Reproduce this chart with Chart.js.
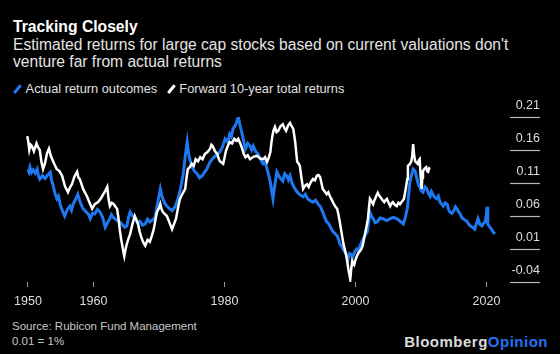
<!DOCTYPE html>
<html>
<head>
<meta charset="utf-8">
<script src="https://cdn.jsdelivr.net/npm/chart.js@4/dist/chart.umd.min.js"></script>
<style>
  body { margin: 0; background: #000; width: 560px; height: 354px; overflow: hidden; position: relative;
         font-family: "Liberation Sans", Arial, sans-serif; }
  .title { position: absolute; left: 13px; top: 18px; color: #fff; font-weight: bold; font-size: 15.7px; white-space: nowrap; }
  .subtitle { position: absolute; left: 13px; top: 36px; color: #e4e4e4; font-size: 15.6px; line-height: 17px; white-space: nowrap; }
  .legend { position: absolute; left: 12px; top: 81px; color: #e0e0e0; font-size: 12.8px; white-space: nowrap; }
  .legend span.item { margin-right: 5px; }
  .legend i { display: inline-block; width: 2.6px; height: 10px; transform: rotate(40deg); margin: 0 7px -1px 4px; }
  #wrap { position: absolute; left: 0; top: 95px; width: 560px; height: 215px; }
  .source { position: absolute; left: 12px; top: 319px; color: #c8c8c8; font-size: 11.5px; line-height: 15px; }
  .logo { position: absolute; right: 12px; top: 333px; font-size: 15px; font-weight: bold; color: #dcdcdc; letter-spacing: 0.5px; }
  .logo b { color: #2372f2; }
</style>
</head>
<body>
<div class="title">Tracking Closely</div>
<div class="subtitle">Estimated returns for large cap stocks based on current valuations don't<br>venture far from actual returns</div>
<div class="legend">
  <span class="item"><i style="background:#1e78f0"></i>Actual return outcomes</span>
  <span class="item"><i style="background:#fff"></i>Forward 10-year total returns</span>
</div>
<div id="wrap"><canvas id="chart"></canvas></div>
<div class="source">Source: Rubicon Fund Management<br>0.01 = 1%</div>
<div class="logo">Bloomberg<b>Opinion</b></div>

<script>
// === Data ====================================================================
const xTickYears = [1950, 1960, 1980, 2000, 2020];
const yTickValues = [-0.04, 0.01, 0.06, 0.11, 0.16, 0.21];

// Actual return outcomes (blue)
const actualYears = [
  1950.0, 1950.15, 1950.3, 1950.55, 1950.8, 1951.1, 1951.4, 1951.6, 1951.8, 1952.2,
  1952.6, 1953.0, 1953.4, 1953.6, 1953.8, 1954.1, 1954.4, 1954.65, 1954.9, 1955.25,
  1955.6, 1956.0, 1956.4, 1956.65, 1956.9, 1957.25, 1957.6, 1958.0, 1958.4, 1958.8,
  1959.2, 1959.5, 1959.85, 1960.2, 1960.6, 1961.0, 1961.4, 1961.8, 1962.15, 1962.5,
  1962.75, 1963.0, 1963.5, 1964.0, 1964.4, 1964.8, 1965.1, 1965.35, 1965.6, 1965.95,
  1966.3, 1966.7, 1967.1, 1967.5, 1967.9, 1968.25, 1968.6, 1969.0, 1969.4, 1969.8,
  1970.2, 1970.4, 1970.6, 1970.9, 1971.2, 1971.6, 1972.0, 1972.45, 1972.9, 1973.3,
  1973.7, 1974.0, 1974.3, 1974.5, 1974.7, 1975.0, 1975.4, 1975.8, 1976.2, 1976.6,
  1977.0, 1977.3, 1977.7, 1978.1, 1978.5, 1978.9, 1979.3, 1979.7, 1980.1, 1980.5,
  1980.8, 1981.05, 1981.3, 1981.7, 1982.1, 1982.4, 1982.7, 1983.0, 1983.2, 1983.55,
  1983.9, 1984.15, 1984.4, 1984.75, 1985.1, 1985.5, 1985.9, 1986.2, 1986.5, 1986.75,
  1987.0, 1987.2, 1987.4, 1987.55, 1987.7, 1988.0, 1988.45, 1988.9, 1989.2, 1989.5,
  1989.75, 1990.0, 1990.3, 1990.6, 1990.85, 1991.1, 1991.55, 1992.0, 1992.35, 1992.7,
  1993.1, 1993.5, 1993.9, 1994.3, 1994.65, 1995.0, 1995.3, 1995.6, 1995.85, 1996.1,
  1996.35, 1996.6, 1996.9, 1997.2, 1997.4, 1997.6, 1997.85, 1998.1, 1998.35, 1998.6,
  1998.9, 1999.1, 1999.3, 1999.6, 1999.9, 2000.2, 2000.45, 2000.7, 2001.0, 2001.3,
  2001.55, 2001.8, 2002.0, 2002.2, 2002.45, 2002.7, 2003.0, 2003.3, 2003.75, 2004.2,
  2004.75, 2005.3, 2005.8, 2006.3, 2006.8, 2007.3, 2007.6, 2007.9, 2008.1, 2008.3,
  2008.55, 2008.8, 2009.1, 2009.4, 2009.6, 2009.8, 2010.05, 2010.3, 2010.6, 2010.9,
  2011.15, 2011.4, 2011.6, 2011.8, 2012.1, 2012.4, 2012.65, 2012.9, 2013.15, 2013.4,
  2013.7, 2014.0, 2014.2, 2014.4, 2014.7, 2015.0, 2015.25, 2015.5, 2015.75, 2016.0,
  2016.2, 2016.4, 2016.7, 2017.0, 2017.25, 2017.5, 2017.85, 2018.2, 2018.45, 2018.7,
  2019.0, 2019.3, 2019.55, 2019.8, 2019.95, 2020.1, 2020.2, 2020.5, 2020.75, 2021.0,
  2021.3
];
const actualValues = [
  0.131, 0.127, 0.134, 0.126, 0.130, 0.125, 0.131, 0.121, 0.116, 0.121,
  0.117, 0.122, 0.126, 0.114, 0.108, 0.095, 0.086, 0.090, 0.078, 0.068,
  0.060, 0.070, 0.075, 0.069, 0.078, 0.085, 0.093, 0.080, 0.071, 0.067,
  0.063, 0.056, 0.064, 0.063, 0.070, 0.066, 0.058, 0.043, 0.050, 0.056,
  0.062, 0.058, 0.054, 0.051, 0.047, 0.043, 0.045, 0.058, 0.066, 0.060,
  0.058, 0.050, 0.052, 0.046, 0.048, 0.055, 0.051, 0.054, 0.058, 0.080,
  0.101, 0.092, 0.086, 0.079, 0.075, 0.071, 0.068, 0.074, 0.086, 0.102,
  0.124, 0.150, 0.172, 0.156, 0.146, 0.136, 0.128, 0.124, 0.118, 0.121,
  0.127, 0.131, 0.140, 0.146, 0.150, 0.154, 0.157, 0.165, 0.177, 0.172,
  0.184, 0.180, 0.192, 0.198, 0.210, 0.196, 0.184, 0.170, 0.162, 0.170,
  0.166, 0.160, 0.166, 0.158, 0.154, 0.146, 0.139, 0.142, 0.131, 0.122,
  0.111, 0.098, 0.086, 0.098, 0.108, 0.127, 0.118, 0.113, 0.124, 0.121,
  0.115, 0.121, 0.110, 0.104, 0.100, 0.096, 0.092, 0.089, 0.093, 0.086,
  0.083, 0.081, 0.084, 0.078, 0.074, 0.066, 0.058, 0.051, 0.049, 0.045,
  0.040, 0.036, 0.033, 0.030, 0.025, 0.018, 0.015, 0.010, 0.006, 0.002,
  -0.005, 0.003, 0.002, -0.001, 0.006, 0.010, 0.008, 0.015, 0.022, 0.028,
  0.032, 0.036, 0.050, 0.066, 0.060, 0.056, 0.050, 0.051, 0.057, 0.056,
  0.053, 0.056, 0.058, 0.056, 0.052, 0.048, 0.058, 0.071, 0.090, 0.111,
  0.122, 0.131, 0.128, 0.116, 0.108, 0.104, 0.098, 0.096, 0.104, 0.101,
  0.094, 0.090, 0.097, 0.093, 0.088, 0.086, 0.090, 0.081, 0.078, 0.075,
  0.080, 0.078, 0.070, 0.066, 0.064, 0.068, 0.074, 0.071, 0.066, 0.063,
  0.058, 0.056, 0.054, 0.052, 0.048, 0.045, 0.043, 0.040, 0.048, 0.056,
  0.047, 0.045, 0.049, 0.051, 0.060, 0.074, 0.048, 0.043, 0.040, 0.036,
  0.033
];

// Forward 10-year total returns (white)
const forwardYears = [
  1949.9, 1950.05, 1950.2, 1950.4, 1950.6, 1950.9, 1951.3, 1951.55, 1951.8, 1952.05,
  1952.3, 1952.6, 1952.9, 1953.2, 1953.45, 1953.7, 1954.05, 1954.4, 1954.8, 1955.2,
  1955.65, 1956.1, 1956.4, 1956.7, 1957.1, 1957.5, 1957.7, 1957.9, 1958.45, 1959.0,
  1959.4, 1959.8, 1960.2, 1960.7, 1961.1, 1961.5, 1961.8, 1962.1, 1962.3, 1962.5,
  1962.8, 1963.1, 1963.35, 1963.6, 1963.8, 1964.0, 1964.2, 1964.4, 1964.55, 1964.7,
  1964.9, 1965.1, 1965.35, 1965.6, 1965.95, 1966.3, 1966.55, 1966.8, 1967.05, 1967.3,
  1967.6, 1967.9, 1968.25, 1968.6, 1968.9, 1969.2, 1969.45, 1969.7, 1970.0, 1970.2,
  1970.4, 1970.6, 1970.9, 1971.2, 1971.6, 1972.0, 1972.3, 1972.6, 1972.9, 1973.2,
  1973.6, 1974.0, 1974.2, 1974.4, 1974.7, 1975.0, 1975.3, 1975.6, 1975.95, 1976.3,
  1976.65, 1977.0, 1977.4, 1977.8, 1978.0, 1978.2, 1978.55, 1978.9, 1979.1, 1979.3,
  1979.55, 1979.8, 1980.0, 1980.2, 1980.5, 1980.8, 1981.15, 1981.5, 1981.8, 1982.1,
  1982.4, 1982.7, 1982.95, 1983.2, 1983.55, 1983.9, 1984.45, 1985.0, 1985.45, 1985.9,
  1986.2, 1986.5, 1986.75, 1987.0, 1987.15, 1987.3, 1987.5, 1987.7, 1987.95, 1988.2,
  1988.55, 1988.9, 1989.15, 1989.4, 1989.7, 1990.0, 1990.25, 1990.5, 1990.65, 1990.8,
  1990.95, 1991.1, 1991.3, 1991.5, 1991.75, 1992.0, 1992.3, 1992.6, 1992.85, 1993.1,
  1993.3, 1993.5, 1993.8, 1994.1, 1994.35, 1994.6, 1994.8, 1995.0, 1995.3, 1995.6,
  1995.85, 1996.1, 1996.4, 1996.7, 1996.95, 1997.2, 1997.4, 1997.6, 1997.85, 1998.1,
  1998.35, 1998.6, 1998.75, 1998.9, 1999.05, 1999.2, 1999.35, 1999.5, 1999.65, 1999.8,
  2000.0, 2000.2, 2000.45, 2000.7, 2000.9, 2001.1, 2001.35, 2001.6, 2001.75, 2001.9,
  2002.05, 2002.2, 2002.45, 2002.7, 2002.85, 2003.0, 2003.2, 2003.4, 2003.55, 2003.7,
  2004.05, 2004.4, 2004.6, 2004.8, 2005.05, 2005.3, 2005.5, 2005.7, 2006.0, 2006.3,
  2006.55, 2006.8, 2007.1, 2007.4, 2007.65, 2007.9, 2008.0, 2008.25, 2008.5, 2008.65,
  2008.8, 2008.95, 2009.1, 2009.3, 2009.5, 2009.65, 2009.8, 2009.95, 2010.1, 2010.2,
  2010.3, 2010.55, 2010.8, 2010.95, 2011.1, 2011.25, 2011.4
];
const forwardValues = [
  0.181, 0.172, 0.160, 0.168, 0.166, 0.158, 0.170, 0.164, 0.160, 0.142,
  0.131, 0.140, 0.155, 0.162, 0.152, 0.146, 0.138, 0.131, 0.128, 0.121,
  0.105, 0.096, 0.103, 0.108, 0.120, 0.127, 0.118, 0.116, 0.100, 0.090,
  0.080, 0.071, 0.078, 0.081, 0.086, 0.093, 0.098, 0.104, 0.086, 0.075,
  0.080, 0.078, 0.074, 0.071, 0.058, 0.040, 0.026, 0.015, 0.006, -0.001,
  0.010, 0.018, 0.026, 0.033, 0.048, 0.060, 0.054, 0.048, 0.036, 0.028,
  0.020, 0.015, 0.024, 0.021, 0.030, 0.040, 0.054, 0.066, 0.072, 0.078,
  0.070, 0.066, 0.063, 0.060, 0.050, 0.040, 0.048, 0.056, 0.072, 0.086,
  0.094, 0.101, 0.118, 0.131, 0.134, 0.139, 0.136, 0.146, 0.143, 0.149,
  0.146, 0.154, 0.157, 0.162, 0.168, 0.166, 0.158, 0.154, 0.147, 0.143,
  0.141, 0.139, 0.148, 0.158, 0.166, 0.172, 0.170, 0.177, 0.174, 0.177,
  0.170, 0.162, 0.154, 0.149, 0.152, 0.146, 0.150, 0.151, 0.147, 0.146,
  0.149, 0.142, 0.148, 0.157, 0.170, 0.181, 0.190, 0.195, 0.187, 0.189,
  0.196, 0.199, 0.193, 0.189, 0.197, 0.201, 0.196, 0.192, 0.182, 0.172,
  0.156, 0.142, 0.140, 0.136, 0.118, 0.101, 0.106, 0.108, 0.104, 0.110,
  0.113, 0.116, 0.114, 0.121, 0.122, 0.119, 0.110, 0.101, 0.097, 0.093,
  0.096, 0.090, 0.084, 0.078, 0.074, 0.071, 0.062, 0.051, 0.036, 0.021,
  0.010, -0.001, -0.010, -0.020, -0.028, -0.036, -0.020, -0.008, -0.012, -0.014,
  -0.006, -0.001, 0.004, 0.007, 0.010, 0.015, 0.028, 0.040, 0.048, 0.056,
  0.072, 0.086, 0.082, 0.078, 0.083, 0.086, 0.091, 0.095, 0.092, 0.090,
  0.085, 0.081, 0.084, 0.086, 0.080, 0.075, 0.079, 0.081, 0.077, 0.075,
  0.080, 0.078, 0.082, 0.086, 0.100, 0.116, 0.136, 0.138, 0.142, 0.150,
  0.169, 0.152, 0.143, 0.141, 0.139, 0.144, 0.146, 0.120, 0.101, 0.118,
  0.128, 0.132, 0.134, 0.128, 0.127, 0.132, 0.131
];

// === Helpers =================================================================
function toPoints(xs, ys) {
  return xs.map((x, i) => ({ x: x, y: ys[i] }));
}

// short rules under each right-hand value label
const rightRules = {
  id: "rightRules",
  afterDraw(chart) {
    const y = chart.scales.y;
    const ctx = chart.ctx;
    ctx.save();
    ctx.strokeStyle = "#b8b8b8";
    ctx.lineWidth = 1.2;
    yTickValues.forEach(v => {
      const py = Math.round(y.getPixelForValue(v)) + 0.5;
      ctx.beginPath();
      ctx.moveTo(y.left + 10, py);
      ctx.lineTo(y.right, py);
      ctx.stroke();
    });
    ctx.restore();
  }
};

// === Chart ===================================================================
new Chart(document.getElementById("chart"), {
  type: "line",
  data: {
    datasets: [
      {
        label: "Actual return outcomes",
        data: toPoints(actualYears, actualValues),
        borderColor: "#1e78f0",
        borderWidth: 3,
        pointRadius: 0,
        tension: 0,
        order: 1,
      },
      {
        label: "Forward 10-year total returns",
        data: toPoints(forwardYears, forwardValues),
        borderColor: "#ffffff",
        borderWidth: 2.5,
        pointRadius: 0,
        tension: 0,
        order: 0,
      },
    ],
  },
  options: {
    responsive: true,
    maintainAspectRatio: false,
    animation: false,
    layout: { padding: { left: 20, right: 20, top: 22, bottom: 0 } },
    scales: {
      x: {
        type: "linear",
        min: 1948.78,
        max: 2022.06,
        afterBuildTicks: s => { s.ticks = xTickYears.map(v => ({ value: v })); },
        afterFit: s => { s.height = 28; },
        border: { display: false },
        grid: { drawOnChartArea: false, drawTicks: true, tickLength: 5, color: "#9a9a9a" },
        ticks: {
          color: "#dedede",
          font: { family: "'Liberation Sans', Arial, sans-serif", size: 12.5 },
          padding: 7,
          maxRotation: 0,
          callback: v => String(v),
        },
      },
      y: {
        position: "right",
        min: -0.04,
        max: 0.21,
        afterBuildTicks: s => { s.ticks = yTickValues.map(v => ({ value: v })); },
        afterFit: s => { s.width = 40; },
        border: { display: false },
        grid: { display: false },
        ticks: {
          color: "#dedede",
          font: { family: "'Liberation Sans', Arial, sans-serif", size: 12.5 },
          crossAlign: "far",
          labelOffset: -11,
          callback: v => String(Math.round(v * 100) / 100),
        },
      },
    },
    plugins: {
      legend: { display: false },
      tooltip: { enabled: false },
    },
  },
  plugins: [rightRules],
});
</script>
</body>
</html>
